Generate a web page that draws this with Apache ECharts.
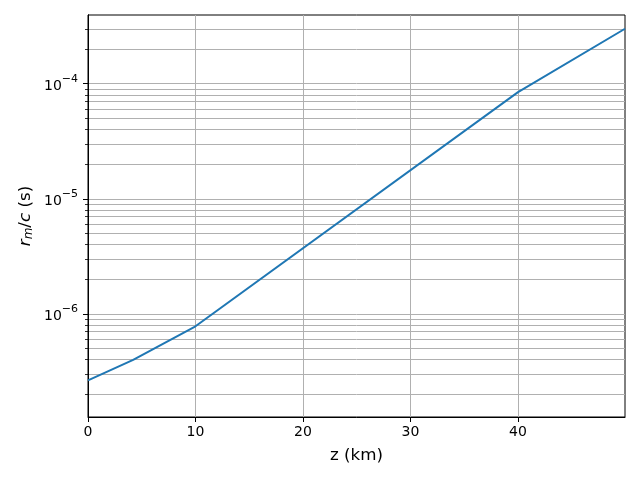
<!DOCTYPE html>
<html>
<head>
<meta charset="utf-8">
<script src="https://cdn.jsdelivr.net/npm/echarts@6/dist/echarts.min.js"></script>
<style>
  html, body { margin: 0; padding: 0; background: #fff; }
  #chart { width: 640px; height: 480px; }
</style>
</head>
<body>
<div id="chart"></div>
<script>
// z (km) and r_m/c (s)
const zKm = [0, 4.2, 10, 40, 49.95];
const rmOverC = [2.64e-7, 3.98e-7, 7.8e-7, 8.45e-5, 3.0e-4];

const xTicks = [0, 10, 20, 30, 40];
const yMajor = [1e-6, 1e-5, 1e-4];
// minor log ticks 2..9 x 10^k
const yMinor = [
  2e-7, 3e-7, 4e-7, 5e-7, 6e-7, 7e-7, 8e-7, 9e-7,
  2e-6, 3e-6, 4e-6, 5e-6, 6e-6, 7e-6, 8e-6, 9e-6,
  2e-5, 3e-5, 4e-5, 5e-5, 6e-5, 7e-5, 8e-5, 9e-5,
  2e-4, 3e-4
];

const yMin = 1.27e-7;
const yMax = 3.95e-4;
const font = 'DejaVu Sans';

const chart = echarts.init(document.getElementById('chart'), null, { renderer: 'canvas' });

const points = zKm.map((z, i) => [z, rmOverC[i]]);

const powLabel = v => {
  const e = Math.round(Math.log10(v));
  return '{b|10}{s|' + (e < 0 ? '\u2212' : '') + Math.abs(e) + '}';
};

chart.setOption({
  animation: false,
  backgroundColor: '#fff',
  grid: {
    left: 88, right: 15, top: 15, bottom: 63,
    show: true, borderColor: '#000', borderWidth: 1, backgroundColor: 'transparent'
  },
  xAxis: {
    type: 'value',
    min: 0,
    max: 49.95,
    interval: 10,
    name: 'z (km)',
    nameLocation: 'middle',
    nameGap: 30,
    nameTextStyle: { fontFamily: font, fontSize: 16.7, color: '#000' },
    axisLine: { lineStyle: { color: '#000', width: 1 } },
    axisTick: { length: 5, lineStyle: { color: '#000' }, customValues: xTicks },
    axisLabel: { fontFamily: font, fontSize: 14, color: '#000', margin: 8, customValues: xTicks },
    splitLine: { show: true, lineStyle: { color: '#b0b0b0', width: 1 } }
  },
  yAxis: [
    {
      type: 'log',
      logBase: 10,
      min: yMin,
      max: yMax,
      name: '{i|r}{sub|m}{n|/}{i|c}{n| (s)}',
      nameLocation: 'middle',
      nameGap: 53,
      nameRotate: 90,
      nameTextStyle: {
        fontFamily: font, fontSize: 16.7, color: '#000',
        rich: {
          i: { fontFamily: font, fontSize: 16.7, fontStyle: 'italic', color: '#000' },
          n: { fontFamily: font, fontSize: 16.7, color: '#000' },
          sub: { fontFamily: font, fontSize: 12, fontStyle: 'italic', color: '#000', verticalAlign: 'bottom', padding: [6, 0, 0, 0] }
        }
      },
      axisLine: { show: true, lineStyle: { color: '#000', width: 1 } },
      axisTick: { show: true, length: 3, lineStyle: { color: '#000', width: 0.8 }, customValues: yMinor.concat(yMajor) },
      axisLabel: { show: false },
      splitLine: { show: true, lineStyle: { color: '#b0b0b0', width: 1 } }
    },
    {
      type: 'log',
      logBase: 10,
      min: yMin,
      max: yMax,
      position: 'left',
      axisLine: { show: true, lineStyle: { color: '#000', width: 1 } },
      axisTick: { show: true, length: 5, lineStyle: { color: '#000', width: 1 }, customValues: yMajor },
      axisLabel: {
        customValues: yMajor,
        margin: 10,
        formatter: powLabel,
        rich: {
          b: { fontFamily: font, fontSize: 14, color: '#000', lineHeight: 20, verticalAlign: 'bottom' },
          s: { fontFamily: font, fontSize: 11, color: '#000', lineHeight: 20, verticalAlign: 'top' }
        }
      },
      splitLine: { show: false }
    }
  ],
  series: [
    {
      type: 'line',
      data: points,
      yAxisIndex: 0,
      symbol: 'none',
      lineStyle: { color: '#1f77b4', width: 2 },
      z: 3
    }
  ]
});
</script>
</body>
</html>
